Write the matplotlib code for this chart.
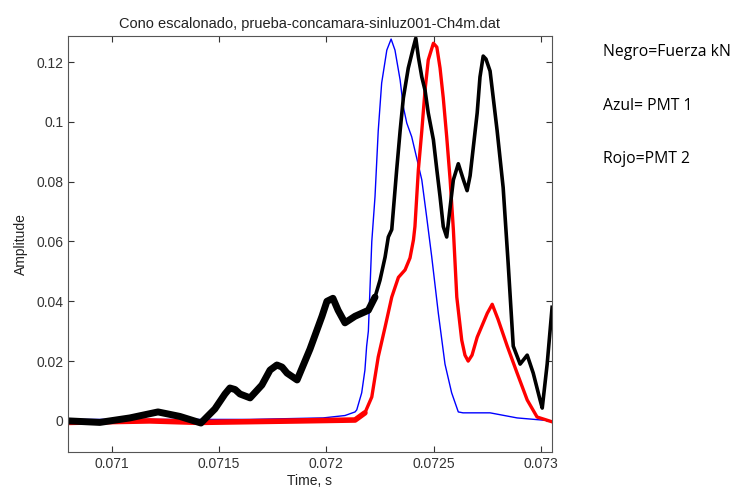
import matplotlib
matplotlib.use("Agg")
import matplotlib.pyplot as plt
from matplotlib.ticker import FuncFormatter

# Black trace: force (kN)
t_black = [0.07080, 0.070945, 0.071085, 0.071216, 0.071318, 0.071416, 0.071481,
           0.071528, 0.071551, 0.071575, 0.071598, 0.071645, 0.071700, 0.071738,
           0.071770, 0.071794, 0.071817, 0.071864, 0.071924, 0.071980, 0.072003,
           0.072031, 0.072055, 0.072087, 0.072134, 0.072165, 0.072196, 0.072227,
           0.072250, 0.072274, 0.072289, 0.072305, 0.072328, 0.072344, 0.072359,
           0.072382, 0.072406, 0.072417, 0.072429, 0.072445, 0.072460, 0.072475,
           0.072499, 0.072515, 0.072530, 0.072545, 0.072561, 0.072577, 0.072592,
           0.072615, 0.072639, 0.072656, 0.072670, 0.072703, 0.072716, 0.072731,
           0.072744, 0.072763, 0.072796, 0.072824, 0.072847, 0.072871, 0.072903,
           0.072936, 0.072964, 0.072996, 0.073006, 0.073029, 0.073052]
v_black = [0.0, -0.0005, 0.001, 0.003, 0.0015, -0.0007, 0.004,
           0.009, 0.011, 0.0105, 0.009, 0.0077, 0.012, 0.017,
           0.0187, 0.018, 0.016, 0.0137, 0.024, 0.035, 0.040,
           0.041, 0.037, 0.0328, 0.035, 0.036, 0.037, 0.0414,
           0.047, 0.0548, 0.0615, 0.064, 0.084, 0.097, 0.108,
           0.118, 0.125, 0.128, 0.1217, 0.115, 0.1106, 0.103,
           0.094, 0.084, 0.075, 0.065, 0.0615, 0.0715, 0.0806,
           0.086, 0.0806, 0.077, 0.082, 0.103, 0.115, 0.122,
           0.121, 0.117, 0.097, 0.078, 0.053, 0.025, 0.019,
           0.022, 0.016, 0.007, 0.0043, 0.019, 0.038]

# Blue trace: PMT 1
t_blue = [0.07080, 0.071645, 0.071985, 0.072087, 0.072134, 0.072142, 0.072165,
          0.072180, 0.072188, 0.072196, 0.072212, 0.072227, 0.072242, 0.072258,
          0.072282, 0.072302, 0.072320, 0.072344, 0.072359, 0.072375, 0.072398,
          0.072421, 0.072445, 0.072468, 0.072491, 0.072522, 0.072553, 0.072584,
          0.072615, 0.072637, 0.072763, 0.072889, 0.073052]
v_blue = [0.0005, 0.0005, 0.001, 0.0018, 0.003, 0.0037, 0.0094,
          0.017, 0.025, 0.030, 0.060, 0.075, 0.097, 0.113,
          0.124, 0.1277, 0.124, 0.114, 0.105, 0.0996, 0.095,
          0.088, 0.0806, 0.068, 0.055, 0.036, 0.019, 0.0094,
          0.003, 0.0027, 0.0027, 0.001, 0.0]

# Red trace: PMT 2
t_red = [0.07080, 0.071178, 0.071412, 0.071878, 0.072134, 0.072180, 0.072212,
         0.072242, 0.072274, 0.072305, 0.072336, 0.072367, 0.072390, 0.072406,
         0.072413, 0.072429, 0.072445, 0.072460, 0.072475, 0.072499, 0.072515,
         0.072530, 0.072545, 0.072561, 0.072577, 0.072592, 0.072608, 0.072631,
         0.072646, 0.072661, 0.072679, 0.072703, 0.072750, 0.072773, 0.072800,
         0.072843, 0.072889, 0.072936, 0.072982, 0.073052]
v_red = [-0.0005, 0.0, -0.0005, 0.0, 0.0003, 0.0027, 0.008,
         0.0214, 0.0314, 0.0414, 0.048, 0.0505, 0.0545, 0.0605,
         0.065, 0.084, 0.097, 0.1106, 0.1207, 0.1263, 0.125,
         0.118, 0.108, 0.095, 0.0806, 0.064, 0.0414, 0.027,
         0.022, 0.020, 0.022, 0.028, 0.036, 0.039, 0.034,
         0.025, 0.016, 0.007, 0.0013, -0.0003]

legend_lines = ["Negro=Fuerza kN", "Azul= PMT 1", "Rojo=PMT 2"]

plt.rcParams["font.family"] = ["Liberation Sans", "DejaVu Sans"]

fig = plt.figure(figsize=(7.34, 4.94), dpi=100)
ax = fig.add_axes([0.093, 0.085, 0.6586, 0.842])

# noisy low-amplitude stretches show up as a wider band
n_noisy = 28
ax.plot(t_blue, v_blue, color="#0000ff", linewidth=1.0)
ax.plot(t_red[:6], v_red[:6], color="#ff0000", linewidth=4.0,
        solid_capstyle="round")
ax.plot(t_red, v_red, color="#ff0000", linewidth=2.4)
ax.plot(t_black[:n_noisy], v_black[:n_noisy], color="black", linewidth=5.0,
        solid_joinstyle="round", solid_capstyle="round")
ax.plot(t_black, v_black, color="black", linewidth=2.6)

ax.set_xlim(0.070798, 0.07305)
ax.set_ylim(-0.0104, 0.1287)
ax.set_xticks([0.071, 0.0715, 0.072, 0.0725, 0.073])
ax.set_yticks([0, 0.02, 0.04, 0.06, 0.08, 0.1, 0.12])
ax.xaxis.set_major_formatter(FuncFormatter(lambda v, p: f"{v:g}"))
ax.yaxis.set_major_formatter(FuncFormatter(lambda v, p: f"{v:g}"))
ax.tick_params(direction="in", top=True, right=True, length=4,
               labelsize=10, colors="#333333")
for spine in ax.spines.values():
    spine.set_color("#555555")

ax.set_title("Cono escalonado, prueba-concamara-sinluz001-Ch4m.dat",
             fontsize=10.5, color="#222222", pad=6)
ax.set_xlabel("Time, s", fontsize=10, color="#222222", labelpad=2)
ax.set_ylabel("Amplitude", fontsize=10, color="#222222", labelpad=6)

for i, txt in enumerate(legend_lines):
    fig.text(0.822, 0.894 - i * 0.108, txt, fontsize=11.3,
             family=["Open Sans", "DejaVu Sans"], va="center", ha="left")

fig.savefig("out.png", dpi=100)
